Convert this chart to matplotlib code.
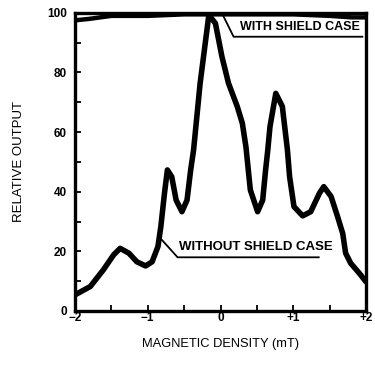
import matplotlib.pyplot as plt
import numpy as np

plt.rcParams['font.family'] = ['Liberation Sans', 'DejaVu Sans']
plt.rcParams['font.weight'] = 'bold'

# curve without shield case
field_mT = [-2.0, -1.79, -1.61, -1.47, -1.38, -1.26, -1.15, -1.03, -0.94, -0.86,
            -0.82, -0.77, -0.73, -0.67, -0.61, -0.53, -0.46, -0.41, -0.37, -0.28,
            -0.16, -0.07, 0.02, 0.11, 0.23, 0.30, 0.35, 0.41, 0.51, 0.58,
            0.62, 0.65, 0.68, 0.76, 0.85, 0.92, 0.95, 1.01, 1.13, 1.24,
            1.36, 1.42, 1.52, 1.61, 1.68, 1.72, 1.79, 1.91, 2.0]
output_no_shield = [5.4, 8.2, 13.8, 18.8, 21, 19.4, 16.5, 15.1, 16.5, 21.6,
                    28.3, 39.5, 47.3, 45, 37.2, 33.3, 37.2, 47.3, 54, 76.4,
                    99.3, 96.5, 85.3, 76.4, 68.6, 63, 55, 40.6, 33.3, 37.2,
                    47.3, 54, 61.8, 73, 68.6, 54, 45, 35, 31.9, 33.3,
                    39.5, 41.7, 38.4, 31.6, 26, 19.4, 16, 12.6, 9.8]

# curve with shield case (flat near full scale)
field_shield = [-2.0, -1.8, -1.5, -1.0, -0.5, 0.0, 0.5, 1.0, 1.5, 1.8, 2.0]
output_shield = [97.5, 98, 99, 99, 99.5, 99.5, 99.5, 99.5, 99, 98.5, 98.5]

fig = plt.figure(figsize=(3.75, 3.68), dpi=100)
ax = fig.add_axes([0.2, 0.155, 0.776, 0.81])

ax.plot(field_shield, output_shield, color='black', lw=3.2, solid_capstyle='butt')
ax.plot(field_mT, output_no_shield, color='black', lw=4.0,
        solid_joinstyle='round', solid_capstyle='round')

# leaders and labels
ax.plot([0.02, 0.18, 1.95], [99.9, 92, 92], color='black', lw=1.3)
ax.text(1.92, 93.2, 'WITH SHIELD CASE', ha='right', va='bottom', fontsize=9)
ax.plot([-0.83, -0.59, 1.35], [24.5, 18, 18], color='black', lw=1.3)
ax.text(-0.57, 19.5, 'WITHOUT SHIELD CASE', ha='left', va='bottom', fontsize=9.5)

ax.set_xlim(-2, 2)
ax.set_ylim(0, 100)
ax.set_xticks([-2, -1, 0, 1, 2])
ax.set_xticklabels(['\u22122', '\u22121', '0', '+1', '+2'])
ax.set_xticks(np.arange(-2, 2.01, 0.5), minor=True)
ax.set_yticks([0, 20, 40, 60, 80, 100])
ax.set_yticks(np.arange(0, 101, 10), minor=True)
ax.tick_params(which='both', direction='in', width=1.3, labelsize=8.5)
ax.tick_params(which='major', length=4)
ax.tick_params(which='minor', length=4)
ax.tick_params(axis='x', pad=1)
ax.tick_params(axis='y', pad=6)
for s in ax.spines.values():
    s.set_linewidth(2.4)

ax.set_xlabel('MAGNETIC DENSITY (mT)', fontsize=9.3, labelpad=10)
ax.set_ylabel('RELATIVE OUTPUT', fontsize=9.5, labelpad=16)

fig.savefig('out.png', dpi=100)
